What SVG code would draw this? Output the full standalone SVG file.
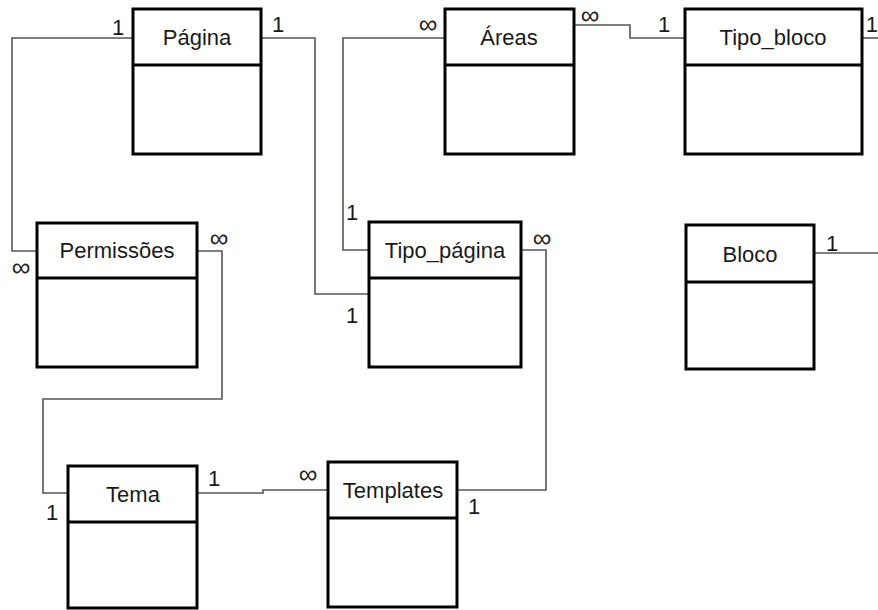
<svg xmlns="http://www.w3.org/2000/svg" width="878" height="610" viewBox="0 0 878 610">
<style>
.box{fill:#fff;stroke:#000;stroke-width:3}
.div{stroke:#000;stroke-width:3}
.t{font-family:"Liberation Sans",Arial,sans-serif;font-size:22px;fill:#1a1a1a;text-anchor:middle}
.l{font-family:"Liberation Sans",Arial,sans-serif;font-size:22px;fill:#1a1a1a;text-anchor:middle}
.inf{font-family:"Liberation Sans",Arial,sans-serif;font-size:26px;fill:#222;text-anchor:middle}
.c{fill:none;stroke:#555;stroke-width:1.6}
</style>
<rect width="878" height="610" fill="#fff"/>
<g id="connectors">
<path class="c" d="M133,38 H12 V251 H37"/>
<path class="c" d="M261,38 H315 V294 H369"/>
<path class="c" d="M445,38 H343 V250 H369"/>
<path class="c" d="M574,25 H630 V38 H685"/>
<path class="c" d="M862,38 H878"/>
<path class="c" d="M814,253 H878"/>
<path class="c" d="M197,251 H222 V399 H43 V493 H68"/>
<path class="c" d="M197,493 H263 V490 H328"/>
<path class="c" d="M521,250 H546 V490 H457"/>
<text class="l" x="118" y="35">1</text>
<text class="l" x="278" y="32">1</text>
<text class="inf" x="428" y="33">∞</text>
<text class="inf" x="21" y="276">∞</text>
<text class="inf" x="219" y="247">∞</text>
<text class="l" x="352" y="220">1</text>
<text class="l" x="352" y="323">1</text>
<text class="inf" x="590" y="24">∞</text>
<text class="l" x="664" y="32">1</text>
<text class="l" x="878" y="32" style="text-anchor:end">1</text>
<text class="inf" x="542" y="247">∞</text>
<text class="l" x="832" y="251">1</text>
<text class="l" x="214" y="486">1</text>
<text class="inf" x="308" y="483">∞</text>
<text class="l" x="52" y="520">1</text>
<text class="l" x="474" y="514">1</text>
</g>
<g id="pagina">
<rect class="box" x="133" y="9" width="128" height="145"/>
<line class="div" x1="133" y1="65" x2="261" y2="65"/>
<text class="t" x="197" y="45">Página</text>
</g>
<g id="areas">
<rect class="box" x="445" y="9" width="129" height="145"/>
<line class="div" x1="445" y1="65" x2="574" y2="65"/>
<text class="t" x="509" y="45">Áreas</text>
</g>
<g id="tipo_bloco">
<rect class="box" x="685" y="9" width="177" height="145"/>
<line class="div" x1="685" y1="65" x2="862" y2="65"/>
<text class="t" x="773" y="45">Tipo_bloco</text>
</g>
<g id="permissoes">
<rect class="box" x="37" y="223" width="160" height="144"/>
<line class="div" x1="37" y1="278" x2="197" y2="278"/>
<text class="t" x="117" y="258">Permissões</text>
</g>
<g id="tipo_pagina">
<rect class="box" x="369" y="222" width="152" height="145"/>
<line class="div" x1="369" y1="278" x2="521" y2="278"/>
<text class="t" x="445" y="258">Tipo_página</text>
</g>
<g id="bloco">
<rect class="box" x="686" y="225" width="128" height="144"/>
<line class="div" x1="686" y1="282" x2="814" y2="282"/>
<text class="t" x="750" y="262">Bloco</text>
</g>
<g id="tema">
<rect class="box" x="68" y="466" width="129" height="142"/>
<line class="div" x1="68" y1="522" x2="197" y2="522"/>
<text class="t" x="133" y="502">Tema</text>
</g>
<g id="templates">
<rect class="box" x="328" y="462" width="129" height="145"/>
<line class="div" x1="328" y1="518" x2="457" y2="518"/>
<text class="t" x="393" y="498">Templates</text>
</g>
</svg>
